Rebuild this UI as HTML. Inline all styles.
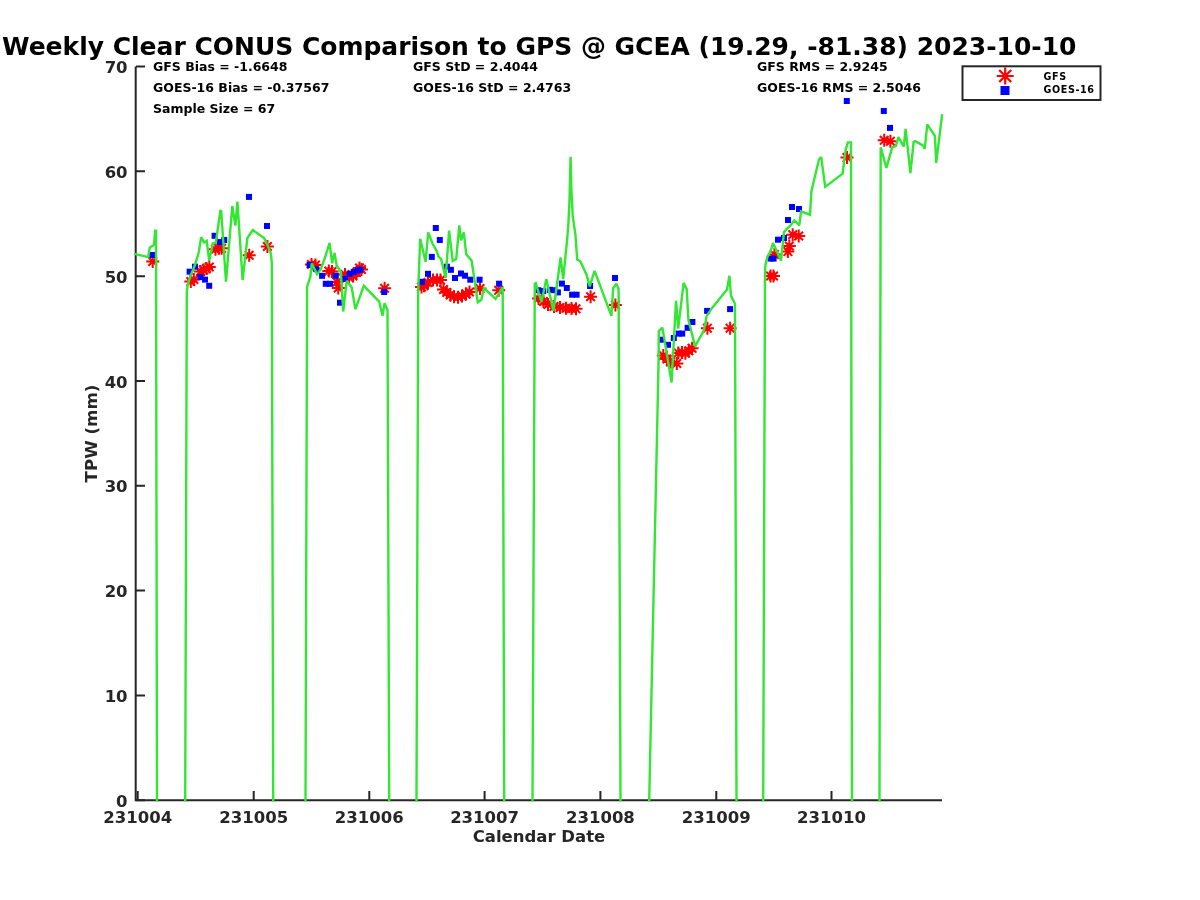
<!DOCTYPE html><html><head><meta charset="utf-8"><style>html,body{margin:0;padding:0;background:#fff;width:1200px;height:900px;overflow:hidden}svg{display:block;will-change:transform}text{font-family:"DejaVu Sans", "Liberation Sans", sans-serif;font-weight:bold}</style></head><body>
<svg width="1200" height="900" viewBox="0 0 1200 900">
<rect width="1200" height="900" fill="#fff"/>
<text x="2" y="55" font-size="25.4" fill="#000" textLength="1074.5" lengthAdjust="spacingAndGlyphs">Weekly Clear CONUS Comparison to GPS @ GCEA (19.29, -81.38) 2023-10-10</text>
<g stroke="#262626" stroke-width="2" fill="none">
<path d="M135.7,66.5V800.3H942"/>
<path d="M136,800.3h9M136,695.5h9M136,590.6h9M136,485.8h9M136,381.0h9M136,276.2h9M136,171.3h9M136,66.5h9M137.7,800v-9M253.7,800v-9M369.3,800v-9M484.6,800v-9M600.4,800v-9M716.3,800v-9M831.5,800v-9"/>
</g>
<g fill="#262626" font-size="16.5">
<text x="127.6" y="806.9" text-anchor="end">0</text>
<text x="127.6" y="702.1" text-anchor="end">10</text>
<text x="127.6" y="597.2" text-anchor="end">20</text>
<text x="127.6" y="492.4" text-anchor="end">30</text>
<text x="127.6" y="387.6" text-anchor="end">40</text>
<text x="127.6" y="282.8" text-anchor="end">50</text>
<text x="127.6" y="177.9" text-anchor="end">60</text>
<text x="127.6" y="73.1" text-anchor="end">70</text>
<text x="137.7" y="823" text-anchor="middle">231004</text>
<text x="253.7" y="823" text-anchor="middle">231005</text>
<text x="369.3" y="823" text-anchor="middle">231006</text>
<text x="484.6" y="823" text-anchor="middle">231007</text>
<text x="600.4" y="823" text-anchor="middle">231008</text>
<text x="716.3" y="823" text-anchor="middle">231009</text>
<text x="831.5" y="823" text-anchor="middle">231010</text>
<text x="539" y="842" text-anchor="middle">Calendar Date</text>
<text transform="translate(97,433.5) rotate(-90)" text-anchor="middle" font-size="16.7">TPW (mm)</text>
</g>
<use href="#ast" x="152.7" y="261.5"/>
<use href="#ast" x="190.8" y="281.5"/>
<use href="#ast" x="193.8" y="279.5"/>
<use href="#ast" x="200.5" y="271.5"/>
<use href="#ast" x="203.5" y="270.0"/>
<use href="#ast" x="206.5" y="268.5"/>
<use href="#ast" x="209.3" y="267.0"/>
<use href="#ast" x="215.5" y="249.2"/>
<use href="#ast" x="218.8" y="248.3"/>
<use href="#ast" x="221.6" y="248.3"/>
<use href="#ast" x="249.2" y="255.3"/>
<use href="#ast" x="267.4" y="246.5"/>
<use href="#ast" x="311.5" y="264.5"/>
<use href="#ast" x="315.5" y="265.0"/>
<use href="#ast" x="328.8" y="271.0"/>
<use href="#ast" x="332.0" y="271.5"/>
<use href="#ast" x="337.0" y="282.0"/>
<use href="#ast" x="338.3" y="288.0"/>
<use href="#ast" x="345.0" y="274.5"/>
<use href="#ast" x="349.0" y="277.5"/>
<use href="#ast" x="353.0" y="276.0"/>
<use href="#ast" x="356.5" y="272.5"/>
<use href="#ast" x="359.5" y="268.0"/>
<use href="#ast" x="361.5" y="269.5"/>
<use href="#ast" x="384.6" y="288.3"/>
<use href="#ast" x="421.5" y="287.0"/>
<use href="#ast" x="424.0" y="285.8"/>
<use href="#ast" x="428.0" y="282.5"/>
<use href="#ast" x="433.0" y="280.0"/>
<use href="#ast" x="437.0" y="280.0"/>
<use href="#ast" x="440.5" y="280.0"/>
<use href="#ast" x="443.5" y="289.5"/>
<use href="#ast" x="446.8" y="292.5"/>
<use href="#ast" x="450.3" y="295.0"/>
<use href="#ast" x="454.0" y="296.8"/>
<use href="#ast" x="458.0" y="297.2"/>
<use href="#ast" x="462.0" y="296.0"/>
<use href="#ast" x="466.0" y="294.0"/>
<use href="#ast" x="469.5" y="292.0"/>
<use href="#ast" x="480.0" y="288.6"/>
<use href="#ast" x="498.7" y="290.3"/>
<use href="#ast" x="538.5" y="298.5"/>
<use href="#ast" x="543.5" y="301.5"/>
<use href="#ast" x="548.0" y="304.5"/>
<use href="#ast" x="554.0" y="306.5"/>
<use href="#ast" x="560.0" y="307.5"/>
<use href="#ast" x="566.0" y="308.3"/>
<use href="#ast" x="571.5" y="308.5"/>
<use href="#ast" x="576.0" y="308.8"/>
<use href="#ast" x="590.6" y="296.7"/>
<use href="#ast" x="615.4" y="305.1"/>
<use href="#ast" x="663.3" y="355.4"/>
<use href="#ast" x="667.0" y="359.0"/>
<use href="#ast" x="670.5" y="362.0"/>
<use href="#ast" x="676.8" y="363.5"/>
<use href="#ast" x="678.3" y="352.9"/>
<use href="#ast" x="682.1" y="352.5"/>
<use href="#ast" x="685.4" y="353.3"/>
<use href="#ast" x="688.8" y="350.8"/>
<use href="#ast" x="692.1" y="348.3"/>
<use href="#ast" x="707.4" y="328.2"/>
<use href="#ast" x="730.1" y="328.2"/>
<use href="#ast" x="770.5" y="276.0"/>
<use href="#ast" x="773.5" y="276.0"/>
<use href="#ast" x="774.4" y="254.4"/>
<use href="#ast" x="787.9" y="251.6"/>
<use href="#ast" x="789.3" y="246.0"/>
<use href="#ast" x="792.7" y="234.7"/>
<use href="#ast" x="798.7" y="236.0"/>
<use href="#ast" x="847.0" y="157.6"/>
<use href="#ast" x="884.2" y="140.3"/>
<use href="#ast" x="890.4" y="141.2"/>
<rect x="149.4" y="252.0" width="6" height="6" fill="#0000ff"/>
<rect x="186.6" y="268.7" width="6" height="6" fill="#0000ff"/>
<rect x="192.0" y="263.7" width="6" height="6" fill="#0000ff"/>
<rect x="197.4" y="274.1" width="6" height="6" fill="#0000ff"/>
<rect x="202.0" y="276.6" width="6" height="6" fill="#0000ff"/>
<rect x="206.2" y="282.8" width="6" height="6" fill="#0000ff"/>
<rect x="211.6" y="232.8" width="6" height="6" fill="#0000ff"/>
<rect x="217.0" y="239.1" width="6" height="6" fill="#0000ff"/>
<rect x="221.2" y="237.0" width="6" height="6" fill="#0000ff"/>
<rect x="246.0" y="193.9" width="6" height="6" fill="#0000ff"/>
<rect x="264.0" y="223.0" width="6" height="6" fill="#0000ff"/>
<rect x="306.6" y="262.0" width="6" height="6" fill="#0000ff"/>
<rect x="313.2" y="266.2" width="6" height="6" fill="#0000ff"/>
<rect x="319.1" y="272.8" width="6" height="6" fill="#0000ff"/>
<rect x="322.8" y="280.8" width="6" height="6" fill="#0000ff"/>
<rect x="327.0" y="280.8" width="6" height="6" fill="#0000ff"/>
<rect x="332.8" y="272.8" width="6" height="6" fill="#0000ff"/>
<rect x="337.0" y="299.7" width="6" height="6" fill="#0000ff"/>
<rect x="342.0" y="276.0" width="6" height="6" fill="#0000ff"/>
<rect x="346.6" y="270.8" width="6" height="6" fill="#0000ff"/>
<rect x="350.8" y="269.0" width="6" height="6" fill="#0000ff"/>
<rect x="354.9" y="267.4" width="6" height="6" fill="#0000ff"/>
<rect x="357.4" y="266.6" width="6" height="6" fill="#0000ff"/>
<rect x="381.2" y="289.0" width="6" height="6" fill="#0000ff"/>
<rect x="419.0" y="278.8" width="6" height="6" fill="#0000ff"/>
<rect x="425.0" y="270.8" width="6" height="6" fill="#0000ff"/>
<rect x="428.8" y="253.9" width="6" height="6" fill="#0000ff"/>
<rect x="432.8" y="225.0" width="6" height="6" fill="#0000ff"/>
<rect x="436.8" y="237.0" width="6" height="6" fill="#0000ff"/>
<rect x="443.9" y="263.7" width="6" height="6" fill="#0000ff"/>
<rect x="447.9" y="266.8" width="6" height="6" fill="#0000ff"/>
<rect x="452.0" y="275.0" width="6" height="6" fill="#0000ff"/>
<rect x="458.0" y="270.5" width="6" height="6" fill="#0000ff"/>
<rect x="462.0" y="272.7" width="6" height="6" fill="#0000ff"/>
<rect x="467.3" y="276.7" width="6" height="6" fill="#0000ff"/>
<rect x="476.6" y="276.7" width="6" height="6" fill="#0000ff"/>
<rect x="496.1" y="280.7" width="6" height="6" fill="#0000ff"/>
<rect x="535.3" y="287.2" width="6" height="6" fill="#0000ff"/>
<rect x="540.2" y="288.1" width="6" height="6" fill="#0000ff"/>
<rect x="546.9" y="286.8" width="6" height="6" fill="#0000ff"/>
<rect x="551.3" y="287.2" width="6" height="6" fill="#0000ff"/>
<rect x="554.9" y="289.4" width="6" height="6" fill="#0000ff"/>
<rect x="558.9" y="280.6" width="6" height="6" fill="#0000ff"/>
<rect x="563.8" y="285.0" width="6" height="6" fill="#0000ff"/>
<rect x="569.1" y="291.7" width="6" height="6" fill="#0000ff"/>
<rect x="573.6" y="291.7" width="6" height="6" fill="#0000ff"/>
<rect x="587.1" y="283.0" width="6" height="6" fill="#0000ff"/>
<rect x="612.0" y="275.0" width="6" height="6" fill="#0000ff"/>
<rect x="658.8" y="336.7" width="6" height="6" fill="#0000ff"/>
<rect x="665.0" y="341.8" width="6" height="6" fill="#0000ff"/>
<rect x="670.8" y="335.0" width="6" height="6" fill="#0000ff"/>
<rect x="675.7" y="330.6" width="6" height="6" fill="#0000ff"/>
<rect x="679.2" y="330.6" width="6" height="6" fill="#0000ff"/>
<rect x="684.6" y="324.8" width="6" height="6" fill="#0000ff"/>
<rect x="689.4" y="319.0" width="6" height="6" fill="#0000ff"/>
<rect x="704.1" y="307.9" width="6" height="6" fill="#0000ff"/>
<rect x="727.1" y="306.1" width="6" height="6" fill="#0000ff"/>
<rect x="767.6" y="255.6" width="6" height="6" fill="#0000ff"/>
<rect x="770.6" y="255.6" width="6" height="6" fill="#0000ff"/>
<rect x="775.0" y="236.7" width="6" height="6" fill="#0000ff"/>
<rect x="781.0" y="235.0" width="6" height="6" fill="#0000ff"/>
<rect x="785.0" y="217.0" width="6" height="6" fill="#0000ff"/>
<rect x="789.0" y="204.0" width="6" height="6" fill="#0000ff"/>
<rect x="796.0" y="206.0" width="6" height="6" fill="#0000ff"/>
<rect x="843.8" y="98.0" width="6" height="6" fill="#0000ff"/>
<rect x="880.8" y="108.0" width="6" height="6" fill="#0000ff"/>
<rect x="887.0" y="124.9" width="6" height="6" fill="#0000ff"/>
<path d="M135.5,254.2 148.1,257.1 149.8,247.5 153.9,245.0 155.2,230.8 156.0,230.8 157.0,800.3M185.2,800.3 186.8,292.0 187.6,285.6 190.5,276.0 195.3,264.0 198.8,252.0 201.2,237.1 204.2,242.5 206.7,240.8 209.2,260.8 212.9,243.3 215.8,243.0 220.3,210.9 221.2,211.0 226.0,281.7 232.3,206.0 235.4,225.6 237.4,201.6 242.6,280.0 247.4,238.0 252.8,230.0 264.3,238.4 268.3,246.9 271.0,254.0 271.8,263.0 273.2,800.3M305.5,800.3 307.1,286.7 310.4,276.7 311.7,263.3 317.1,274.2 320.8,269.2 325.0,257.5 329.6,242.9 332.1,263.3 334.6,252.9 336.7,265.8 340.8,271.7 343.2,311.5 346.7,280.8 351.7,287.5 355.4,309.2 363.8,285.8 379.2,301.7 382.5,315.8 384.6,303.3 387.5,310.0 389.2,800.3M416.5,800.3 418.2,290.0 420.2,238.7 425.6,261.8 428.2,232.4 432.7,244.0 436.7,251.1 438.4,256.4 441.1,259.1 445.6,277.8 449.1,230.7 452.7,260.9 456.2,259.1 459.3,225.3 461.1,240.4 463.8,232.4 466.2,254.3 471.6,260.6 477.8,302.3 481.3,299.7 484.0,288.1 495.6,298.8 502.7,287.2 504.2,800.3M532.5,800.3 534.8,283.6 535.7,283.1 541.5,302.0 546.3,279.1 553.4,311.0 560.6,257.3 563.2,279.1 566.6,245.0 568.3,225.6 569.5,200.0 570.6,156.8 571.4,190.0 572.8,216.7 575.4,234.4 577.2,259.5 580.5,261.5 586.6,274.9 589.7,286.4 594.6,270.9 611.4,315.8 613.2,288.2 616.3,283.8 618.6,289.1 620.5,800.3M649.2,800.3 658.5,365.0 658.8,331.1 662.4,327.6 671.6,382.5 676.0,300.7 678.2,328.7 683.6,282.9 686.7,289.1 688.4,319.8 695.1,346.4 703.9,330.4 706.6,316.2 711.9,308.2 727.0,289.6 729.4,275.8 731.0,295.8 735.0,303.8 736.5,800.3M763.2,800.3 765.0,275.0 765.4,265.0 767.5,256.5 770.3,252.0 773.0,243.0 781.0,260.5 784.0,232.2 786.5,229.0 790.0,226.0 794.3,220.3 799.3,225.3 801.0,211.3 810.0,214.7 811.4,191.3 819.0,159.3 821.2,157.1 825.2,186.9 842.6,173.6 845.7,149.6 847.9,142.4 851.0,142.4 852.0,800.3M879.5,800.3 880.7,147.4 886.4,167.9 892.2,147.4 895.8,146.1 898.4,137.2 903.8,146.6 905.6,128.8 910.4,173.2 913.6,142.1 915.3,141.2 923.3,145.7 924.7,148.8 927.3,124.3 934.9,135.9 936.2,163.0 942.0,115.4" fill="none" stroke="#33e633" stroke-width="2.4" stroke-linejoin="miter" stroke-miterlimit="2" stroke-linecap="square"/>
<g fill="#000" font-size="12.5">
<text x="153" y="71.3">GFS Bias = -1.6648</text>
<text x="153" y="92">GOES-16 Bias = -0.37567</text>
<text x="153" y="112.5">Sample Size = 67</text>
<text x="413" y="71">GFS StD = 2.4044</text>
<text x="413" y="92">GOES-16 StD = 2.4763</text>
<text x="757" y="71">GFS RMS = 2.9245</text>
<text x="757" y="92">GOES-16 RMS = 2.5046</text>
</g>
<rect x="962.5" y="66.3" width="138" height="33.7" fill="#fff" stroke="#262626" stroke-width="2"/>
<use href="#astL" x="1005.2" y="76"/>
<rect x="1000.5" y="86" width="9" height="9" fill="#0000ff"/>
<g fill="#000" font-size="9.6" letter-spacing="0.6"><text x="1043.5" y="80">GFS</text><text x="1043.5" y="93">GOES-16</text></g>

<defs><g id="ast" stroke="#ff0000" stroke-width="2"><path d="M-6.5,0H6.5M0,-6.5V6.5M-4.3,-4.3L4.3,4.3M-4.3,4.3L4.3,-4.3"/></g><g id="astL" stroke="#ff0000" stroke-width="2.2"><path d="M-8.5,0H8.5M0,-8.5V8.5M-6,-6L6,6M-6,6L6,-6"/></g></defs>
</svg></body></html>
